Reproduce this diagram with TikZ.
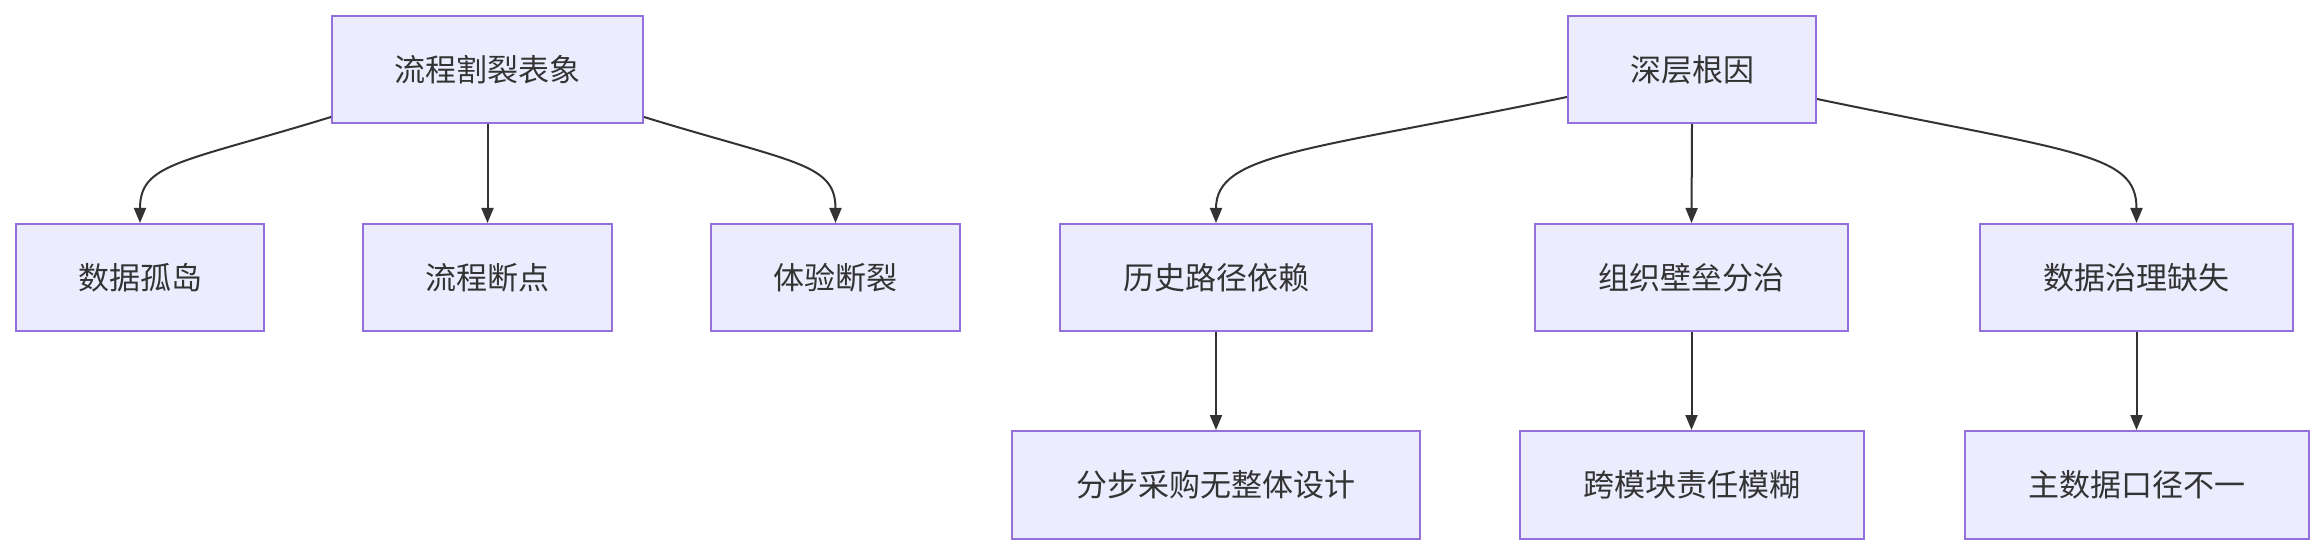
\documentclass[tikz,border=0pt]{standalone}
\usepackage{fontspec}
\setmainfont{Noto Sans CJK SC}
\usetikzlibrary{arrows.meta,calc}
\definecolor{boxfill}{HTML}{ECECFF}
\definecolor{boxline}{HTML}{9370DB}
\definecolor{ink}{HTML}{333333}
\begin{document}
\begin{tikzpicture}[x=1pt,y=-1pt,
  box/.style={draw=boxline,fill=boxfill,line width=2pt,inner sep=0pt,text=ink,
    font=\fontsize{31}{36}\selectfont},
  conn/.style={draw=ink,line width=2pt,-{Triangle[length=15pt,width=12pt]}}]
\useasboundingbox (0,0) rectangle (2324,556);
% top-level
\node[box,minimum width=311pt,minimum height=107pt] (t1) at (487.5,69.5) {流程割裂表象};
\node[box,minimum width=248pt,minimum height=107pt] (t2) at (1692,69.5) {深层根因};
% row 2
\node[box,minimum width=248pt,minimum height=107pt] (a1) at (140,277.5) {数据孤岛};
\node[box,minimum width=249pt,minimum height=107pt] (a2) at (487.5,277.5) {流程断点};
\node[box,minimum width=249pt,minimum height=107pt] (a3) at (835.5,277.5) {体验断裂};
\node[box,minimum width=312pt,minimum height=107pt] (b1) at (1216,277.5) {历史路径依赖};
\node[box,minimum width=313pt,minimum height=107pt] (b2) at (1691.5,277.5) {组织壁垒分治};
\node[box,minimum width=313pt,minimum height=107pt] (b3) at (2136.5,277.5) {数据治理缺失};
% row 3
\node[box,minimum width=408pt,minimum height=108pt] (c1) at (1216,485) {分步采购无整体设计};
\node[box,minimum width=344pt,minimum height=108pt] (c2) at (1691.5,485) {跨模块责任模糊};
\node[box,minimum width=344pt,minimum height=108pt] (c3) at (2136.5,485) {主数据口径不一};
% edges tree 1
\draw[conn] ($(t1.south west)+(0,-7)$) .. controls +(-150,46) and +(0,-60) .. (a1.north);
\draw[conn] (t1.south) -- (a2.north);
\draw[conn] ($(t1.south east)+(0,-7)$) .. controls +(150,46) and +(0,-60) .. (a3.north);
% edges tree 2
\draw[conn] ($(t2.south west)+(0,-27)$) .. controls +(-260,54) and +(0,-70) .. (b1.north);
\draw[conn] (t2.south) -- (b2.north);
\draw[conn] ($(t2.south east)+(0,-25)$) .. controls +(260,54) and +(0,-70) .. (b3.north);
\draw[conn] (b1.south) -- (c1.north);
\draw[conn] (b2.south) -- (c2.north);
\draw[conn] (b3.south) -- (c3.north);
\end{tikzpicture}
\end{document}
